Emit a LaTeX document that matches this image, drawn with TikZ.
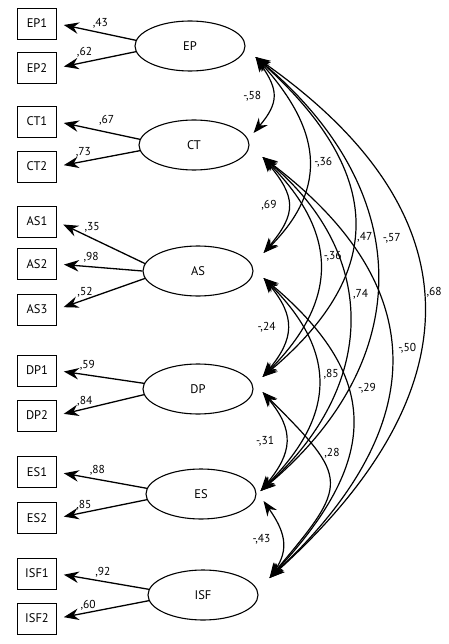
\documentclass[tikz,border=0pt]{standalone}
\usepackage{fontspec}
\setmainfont{PT Sans}
\usetikzlibrary{shapes.geometric,arrows.meta}

\tikzset{
  item/.style={draw,line width=0.8pt,minimum width=39pt,minimum height=31pt,inner sep=0pt,font=\fontsize{12.5}{14}\selectfont},
  factor/.style={draw,ellipse,line width=1.1pt,minimum width=110pt,minimum height=50pt,inner sep=0pt,font=\fontsize{12.5}{14}\selectfont},
  load/.style={->,line width=1.3pt,shorten >=7pt},
  corr/.style={<->,line width=1.2pt},
  coef/.style={font=\fontsize{11.5}{13}\selectfont,inner sep=1pt},
}

\begin{document}
\begin{tikzpicture}[x=1pt,y=1pt,>={Stealth[length=15pt,width=11.5pt,inset=5pt]}]
    \useasboundingbox (0,0) rectangle (448,-644);
    % observed items
    \node[item] (EP1) at (37,-23.5) {EP1};
    \node[item] (EP2) at (37,-68) {EP2};
    \node[item] (CT1) at (37,-121.5) {CT1};
    \node[item] (CT2) at (37,-166.5) {CT2};
    \node[item] (AS1) at (37,-221.5) {AS1};
    \node[item] (AS2) at (37,-264) {AS2};
    \node[item] (AS3) at (37,-309.5) {AS3};
    \node[item] (DP1) at (37,-370.5) {DP1};
    \node[item] (DP2) at (37,-415.5) {DP2};
    \node[item] (ES1) at (37,-472) {ES1};
    \node[item] (ES2) at (37,-518) {ES2};
    \node[item] (ISF1) at (37,-573.5) {ISF1};
    \node[item] (ISF2) at (37,-618.5) {ISF2};
    % latent factors
    \node[factor] (EP) at (190,-46) {EP};
    \node[factor] (CT) at (194,-145) {CT};
    \node[factor] (AS) at (198,-271) {AS};
    \node[factor] (DP) at (198,-389) {DP};
    \node[factor] (ES) at (201,-494) {ES};
    \node[factor] (ISF) at (203,-595) {ISF};
    % loadings
    \draw[load] (EP.174) -- (EP1.east) node[coef,pos=0.45,above=3pt] {,43};
    \draw[load] (EP.186) -- (EP2.east) node[coef,pos=0.65,above=3pt] {,62};
    \draw[load] (CT.174) -- (CT1.east) node[coef,pos=0.4,above=5pt] {,67};
    \draw[load] (CT.186) -- (CT2.east) node[coef,pos=0.68,above=3pt] {,73};
    \draw[load] (AS.172) -- (AS1.east) node[coef,pos=0.6,above=4pt] {,35};
    \draw[load] (AS.west) -- (AS2.east) node[coef,pos=0.6,above=3pt] {,98};
    \draw[load] (AS.188) -- (AS3.east) node[coef,pos=0.68,above=1pt] {,52};
    \draw[load] (DP.174) -- (DP1.east) node[coef,pos=0.65,above=3pt] {,59};
    \draw[load] (DP.186) -- (DP2.east) node[coef,pos=0.68,above=1pt] {,84};
    \draw[load] (ES.174) -- (ES1.east) node[coef,pos=0.55,above=2pt] {,88};
    \draw[load] (ES.186) -- (ES2.east) node[coef,pos=0.7,above=1pt] {,85};
    \draw[load] (ISF.174) -- (ISF1.east) node[coef,pos=0.5,above=3pt] {,92};
    \draw[load] (ISF.186) -- (ISF2.east) node[coef,pos=0.66,above=1pt] {,60};
    % ends of the correlation arcs
    \coordinate (EPo) at ([shift={(10,-11)}]EP.east);
    \coordinate (CTi) at ([shift={(4,12)}]CT.east);
    \coordinate (CTo) at ([shift={(13,-12)}]CT.east);
    \coordinate (ASi) at ([shift={(10,18)}]AS.east);
    \coordinate (ASo) at ([shift={(10,-7)}]AS.east);
    \coordinate (DPi) at ([shift={(9,12)}]DP.east);
    \coordinate (DPo) at ([shift={(9,-3)}]DP.east);
    \coordinate (ESi) at ([shift={(4,3)}]ES.east);
    \coordinate (ESo) at ([shift={(7,-7)}]ES.east);
    \coordinate (ISFi) at ([shift={(11,17)}]ISF.east);
    % correlations
    \draw[corr] (EPo) to[out=-55,in=50,distance=40pt] node[coef,left=10pt] {-,58} (CTi);
    \draw[corr] (EPo) to[out=-48,in=45,distance=95pt] node[coef,pos=0.53,right=4pt] {-,36} (ASi);
    \draw[corr] (EPo) to[out=-42,in=40,distance=168pt] node[coef,pos=0.56,right=2pt] {,47} (DPi);
    \draw[corr] (EPo) to[out=-40,in=40,distance=207pt] node[coef,pos=0.42,right=8pt] {-,57} (ESi);
    \draw[corr] (EPo) to[out=-35,in=42,distance=275pt] node[coef,pos=0.47,right=2pt] {,68} (ISFi);
    \draw[corr] (CTo) to[out=-50,in=50,distance=52pt] node[coef,left=10pt] {,69} (ASi);
    \draw[corr] (CTo) to[out=-45,in=45,distance=108pt] node[coef,pos=0.45,right=3pt] {-,36} (DPi);
    \draw[corr] (CTo) to[out=-40,in=42,distance=155pt] node[coef,pos=0.42,right=4pt] {,74} (ESi);
    \draw[corr] (CTo) to[out=-37,in=43,distance=218pt] node[coef,pos=0.47,right=6pt] {-,50} (ISFi);
    \draw[corr] (ASo) to[out=-50,in=50,distance=50pt] node[coef,left=10pt] {-,24} (DPi);
    \draw[corr] (ASo) to[out=-45,in=45,distance=106pt] node[coef,pos=0.45,right=4pt] {,85} (ESi);
    \draw[corr] (ASo) to[out=-40,in=47,distance=158pt] node[coef,pos=0.38,right=9pt] {-,29} (ISFi);
    \draw[corr] (DPo) to[out=-50,in=50,distance=50pt] node[coef,left=10pt] {-,31} (ESi);
    \draw[corr] (DPo) to[out=-45,in=50,distance=124pt] node[coef,pos=0.3,right=5pt] {,28} (ISFi);
    \draw[corr] (ESo) to[out=-55,in=55,distance=36pt] node[coef,left=10pt] {-,43} (ISFi);
\end{tikzpicture}
\end{document}
